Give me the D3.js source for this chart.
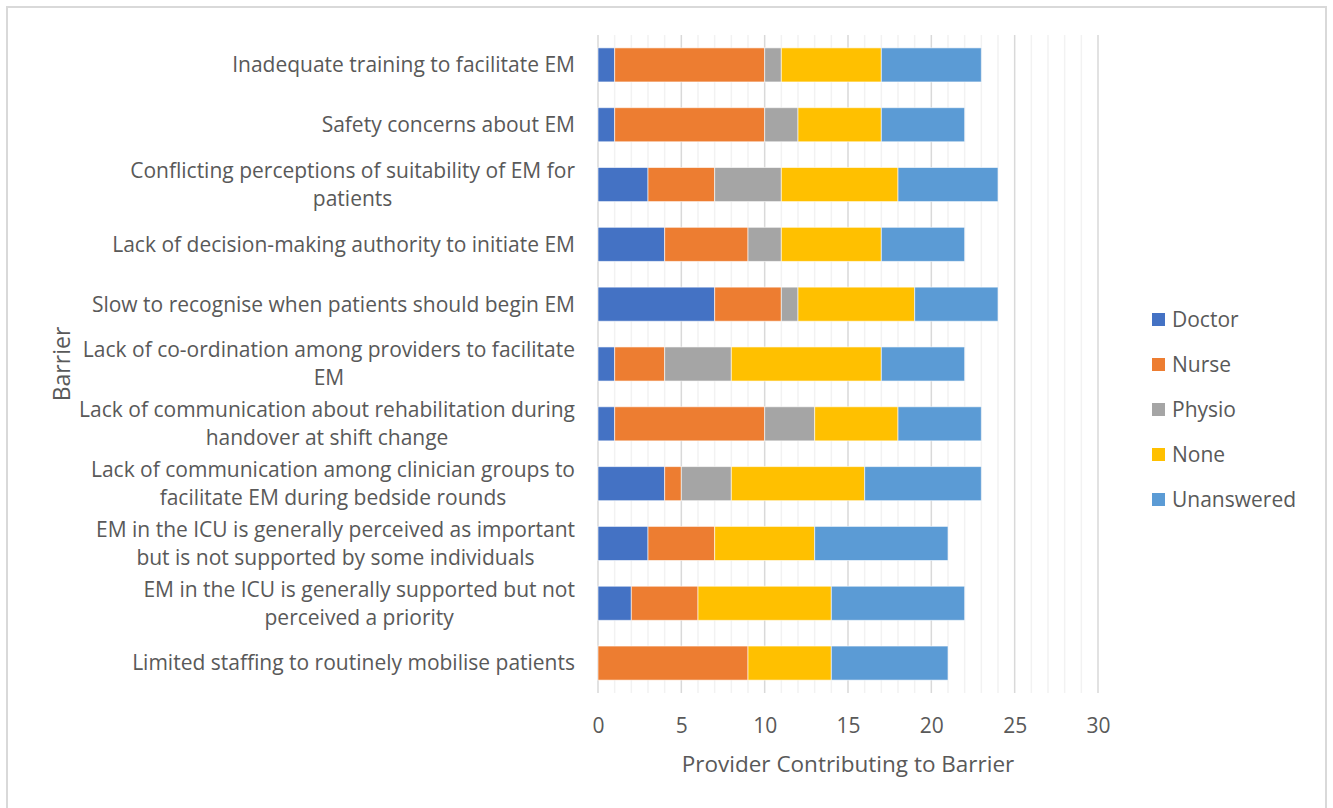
<!DOCTYPE html>
<html>
<head>
<meta charset="utf-8">
<script src="https://cdn.jsdelivr.net/npm/d3@7"></script>
<style>
  html, body { margin: 0; padding: 0; background: #fff; }
  svg text { font-family: "Open Sans", "Noto Sans", sans-serif; fill: #595959; }
</style>
</head>
<body>
<svg id="chart" width="1333" height="808"></svg>
<script>
// Barriers, listed top to bottom; each entry is the wrapped label lines
const barriers = [
  ["Inadequate training to facilitate EM"],
  ["Safety concerns about EM"],
  ["Conflicting perceptions of suitability of EM for", "patients"],
  ["Lack of decision-making authority to initiate EM"],
  ["Slow to recognise when patients should begin EM"],
  ["Lack of co-ordination among providers to facilitate", "EM"],
  ["Lack of communication about rehabilitation during", "handover at shift change"],
  ["Lack of communication among clinician groups to", "facilitate EM during bedside rounds"],
  ["EM in the ICU is generally perceived as important", "but is not supported by some individuals"],
  ["EM in the ICU is generally supported but not", "perceived a priority"],
  ["Limited staffing to routinely mobilise patients"]
];

const seriesNames = ["Doctor", "Nurse", "Physio", "None", "Unanswered"];
const seriesColors = ["#4472C4", "#ED7D31", "#A5A5A5", "#FFC000", "#5B9BD5"];

// Counts per barrier (same order as barriers)
const doctor     = [1, 1, 3, 4, 7, 1, 1, 4, 3, 2, 0];
const nurse      = [9, 9, 4, 5, 4, 3, 9, 1, 4, 4, 9];
const physio     = [1, 2, 4, 2, 1, 4, 3, 3, 0, 0, 0];
const none       = [6, 5, 7, 6, 7, 9, 5, 8, 6, 8, 5];
const unanswered = [6, 5, 6, 5, 5, 5, 5, 7, 8, 8, 7];

const xTicks = [0, 5, 10, 15, 20, 25, 30];

const rows = barriers.map((lines, i) => ({
  key: String(i),
  lines,
  Doctor: doctor[i], Nurse: nurse[i], Physio: physio[i], None: none[i], Unanswered: unanswered[i]
}));

const svg = d3.select("#chart");

// outer chart frame
svg.append("rect")
  .attr("x", 7).attr("y", 7).attr("width", 1319).attr("height", 810)
  .attr("fill", "#fff").attr("stroke", "#d9d9d9").attr("stroke-width", 2);

const plot = { left: 598, right: 1098, top: 35, bottom: 693 };

const x = d3.scaleLinear().domain([0, 30]).range([plot.left, plot.right]);
const y = d3.scaleBand().domain(rows.map(r => r.key)).range([plot.top, plot.bottom]).paddingInner(0.43).paddingOuter(0.215);

// gridlines: minor every unit, major every 5
const g = svg.append("g");
g.selectAll("line.minor").data(d3.range(1, 31).filter(v => v % 5 !== 0)).join("line")
  .attr("x1", d => x(d)).attr("x2", d => x(d))
  .attr("y1", plot.top).attr("y2", plot.bottom)
  .attr("stroke", "#f2f2f2").attr("stroke-width", 1.5);
g.selectAll("line.major").data(xTicks.filter(v => v > 0)).join("line")
  .attr("x1", d => x(d)).attr("x2", d => x(d))
  .attr("y1", plot.top).attr("y2", plot.bottom)
  .attr("stroke", "#d9d9d9").attr("stroke-width", 1.5);
g.append("line")
  .attr("x1", x(0)).attr("x2", x(0)).attr("y1", plot.top).attr("y2", plot.bottom)
  .attr("stroke", "#d9d9d9").attr("stroke-width", 1.5);

// stacked bars
const stack = d3.stack().keys(seriesNames)(rows);
svg.append("g").selectAll("g").data(stack).join("g")
  .attr("fill", (d, i) => seriesColors[i])
  .selectAll("rect").data(d => d.filter(s => s[1] > s[0])).join("rect")
  .attr("x", d => x(d[0]))
  .attr("width", d => x(d[1]) - x(d[0]))
  .attr("y", d => y(d.data.key))
  .attr("height", y.bandwidth())
  .attr("stroke", "#fff").attr("stroke-opacity", 0.6).attr("stroke-width", 1);

// x axis tick labels
const xAxis = d3.axisBottom(x).tickValues(xTicks).tickSize(0).tickPadding(0);
const ax = svg.append("g").attr("transform", "translate(0, 733)").call(xAxis);
ax.select(".domain").remove();
ax.selectAll("text").attr("font-size", 21).attr("dy", 0).attr("y", 0).style("fill", "#595959")
  .style("font-family", '"Open Sans", sans-serif');

// category labels: lines centered within a block right-aligned at the axis
const labelRight = 575;
const fs = 21;
const lh = 28;
const lab = svg.append("g").attr("font-size", fs);
rows.forEach(r => {
  const t = lab.append("text").attr("text-anchor", "middle");
  r.lines.forEach(ln => t.append("tspan").text(ln));
  let maxW = 0;
  t.selectAll("tspan").each(function () { maxW = Math.max(maxW, this.getComputedTextLength()); });
  const cx = labelRight - maxW / 2;
  const cy = y(r.key) + y.bandwidth() / 2;
  const n = r.lines.length;
  t.selectAll("tspan")
    .attr("x", cx)
    .attr("y", (d, j) => cy + (j - (n - 1) / 2) * lh)
    .attr("dy", "0.35em");
});

// axis titles
svg.append("text")
  .attr("x", x(15)).attr("y", 772)
  .attr("text-anchor", "middle").attr("font-size", 22.5)
  .text("Provider Contributing to Barrier");
svg.append("text")
  .attr("transform", "translate(62, 364) rotate(-90)")
  .attr("text-anchor", "middle").attr("dy", "0.35em").attr("font-size", 23)
  .text("Barrier");

// legend
const leg = svg.append("g").attr("transform", "translate(1152, 320)");
seriesNames.forEach((name, i) => {
  const row = leg.append("g").attr("transform", `translate(0, ${i * 45})`);
  row.append("rect").attr("x", 0).attr("y", -7).attr("width", 13).attr("height", 13).attr("fill", seriesColors[i]);
  row.append("text").attr("x", 20).attr("y", 0).attr("dy", "0.35em").attr("font-size", 21).text(name);
});
</script>
</body>
</html>
